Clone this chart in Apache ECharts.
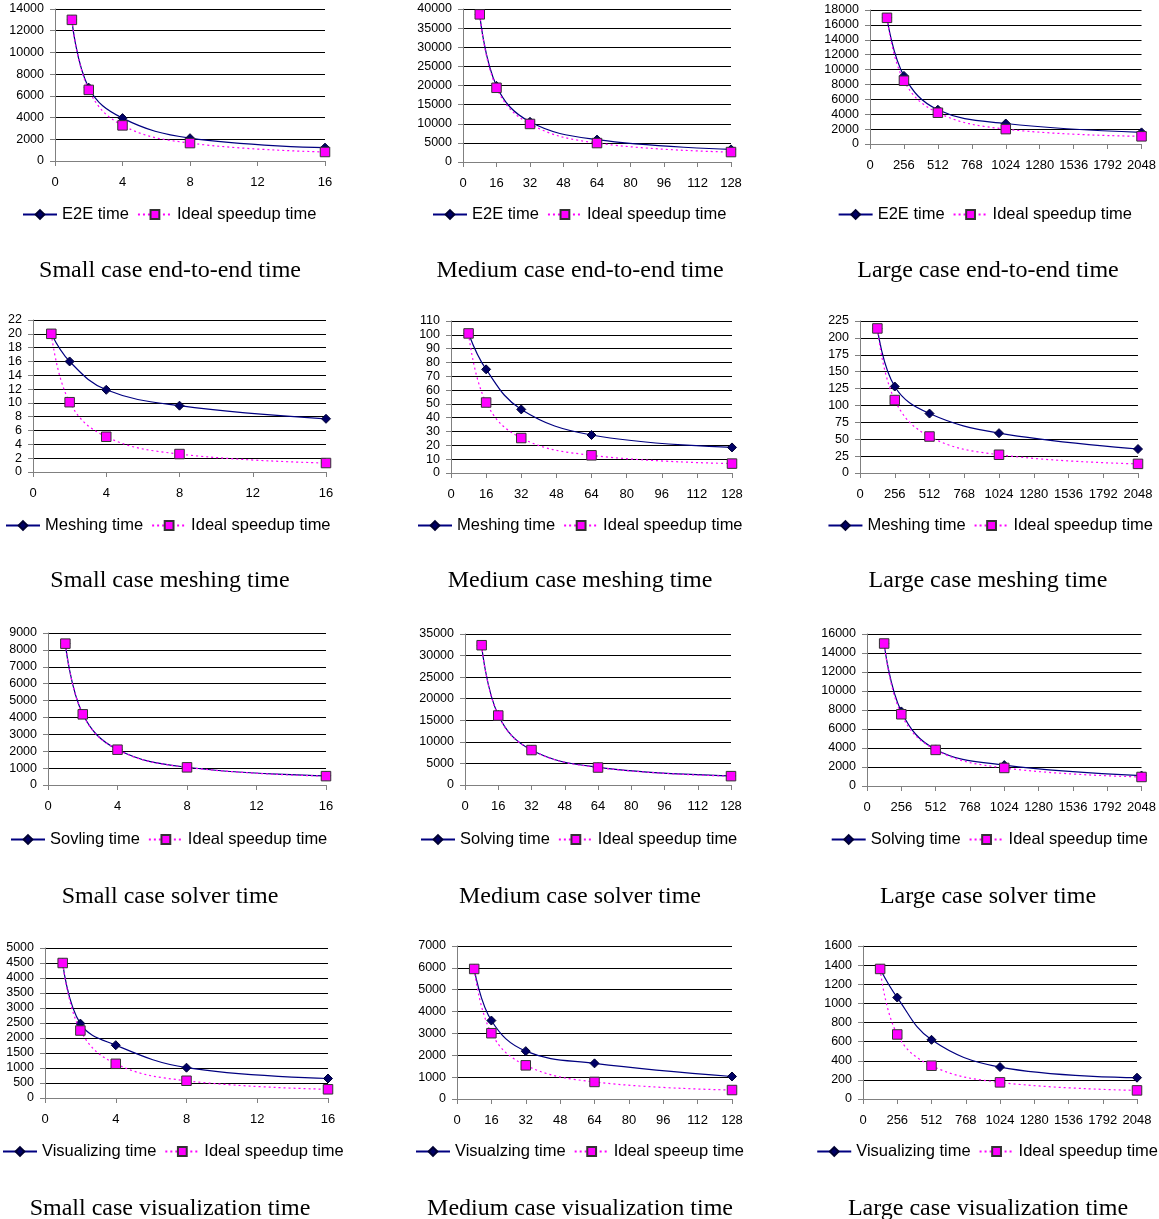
<!DOCTYPE html>
<html><head><meta charset="utf-8">
<script src="https://cdn.jsdelivr.net/npm/echarts@6/dist/echarts.min.js"></script>
<style>html,body{margin:0;padding:0;background:#fff}#c{width:1159px;height:1219px}</style>
</head><body><div id="c"></div>
<script>
// ---------- DATA ----------
const smallProcs  = [1, 2, 4, 8, 16];
const mediumProcs = [8, 16, 32, 64, 128];
const largeProcs  = [128, 256, 512, 1024, 2048];

const smallE2E        = [13000, 6750, 3950, 2100, 1230];
const smallE2EIdeal   = [13000, 6550, 3280, 1650, 830];
const mediumE2E       = [38600, 19900, 10500, 5850, 3300];
const mediumE2EIdeal  = [38600, 19400, 9950, 4950, 2600];
const largeE2E        = [16950, 9150, 4600, 2750, 1560];
const largeE2EIdeal   = [16950, 8500, 4200, 2000, 1030];

const smallMesh       = [20, 16, 11.9, 9.6, 7.7];
const smallMeshIdeal  = [20, 10.1, 5.1, 2.6, 1.3];
const mediumMesh      = [101, 75, 46, 27.5, 18.5];
const mediumMeshIdeal = [101, 51, 25.3, 12.8, 6.8];
const largeMesh       = [214, 128, 88, 59, 35.5];
const largeMeshIdeal  = [214, 108, 54, 27, 13.5];

const smallSolve       = [8370, 4200, 2100, 1050, 540];
const smallSolveIdeal  = [8370, 4185, 2090, 1045, 525];
const mediumSolve      = [32400, 16200, 8100, 4100, 2100];
const mediumSolveIdeal = [32400, 16100, 8100, 4050, 2050];
const largeSolve       = [15000, 7850, 3850, 2200, 1100];
const largeSolveIdeal  = [15000, 7550, 3800, 1900, 950];

const smallVis       = [4500, 2480, 1760, 1010, 650];
const smallVisIdeal  = [4500, 2250, 1140, 575, 290];
const mediumVis      = [5950, 3590, 2190, 1630, 1030];
const mediumVisIdeal = [5950, 3010, 1540, 780, 410];
const largeVis       = [1360, 1061, 619, 334, 223];
const largeVisIdeal  = [1360, 675, 348, 174, 90];

// axis ranges [max, interval]
const smallXAxis  = [16, 4];
const mediumXAxis = [128, 16];
const largeXAxis  = [2048, 256];

// ---------- PANELS (layout) ----------
// lg: [left or null, right or null, legend centre y]
const panels = [
  {x: smallProcs,  a: smallE2E,   b: smallE2EIdeal,   an: 'E2E time', bn: 'Ideal speedup time', xa: smallXAxis,  ymax: 14000, yint: 2000,
   g: [55, 9, 325, 161], lg: [22, null, 213], title: 'Small case end-to-end time', t: [170, 269]},
  {x: mediumProcs, a: mediumE2E,  b: mediumE2EIdeal,  an: 'E2E time', bn: 'Ideal speedup time', xa: mediumXAxis, ymax: 40000, yint: 5000,
   g: [463, 9, 731, 162], lg: [432, null, 213], title: 'Medium case end-to-end time', t: [580, 269]},
  {x: largeProcs,  a: largeE2E,   b: largeE2EIdeal,   an: 'E2E time', bn: 'Ideal speedup time', xa: largeXAxis,  ymax: 18000, yint: 2000,
   g: [870, 10, 1142, 144], lg: [null, 27, 213], title: 'Large case end-to-end time', t: [988, 269]},

  {x: smallProcs,  a: smallMesh,  b: smallMeshIdeal,  an: 'Meshing time', bn: 'Ideal speedup time', xa: smallXAxis,  ymax: 22, yint: 2,
   g: [33, 320, 326, 472], lg: [5, null, 524], title: 'Small case meshing time', t: [170, 579]},
  {x: mediumProcs, a: mediumMesh, b: mediumMeshIdeal, an: 'Meshing time', bn: 'Ideal speedup time', xa: mediumXAxis, ymax: 110, yint: 10,
   g: [451, 321, 732, 473], lg: [417, null, 524], title: 'Medium case meshing time', t: [580, 579]},
  {x: largeProcs,  a: largeMesh,  b: largeMeshIdeal,  an: 'Meshing time', bn: 'Ideal speedup time', xa: largeXAxis,  ymax: 225, yint: 25,
   g: [860, 321, 1138, 473], lg: [null, 6, 524], title: 'Large case meshing time', t: [988, 579]},

  {x: smallProcs,  a: smallSolve,  b: smallSolveIdeal,  an: 'Sovling time', bn: 'Ideal speedup time', xa: smallXAxis,  ymax: 9000, yint: 1000,
   g: [48, 633, 326, 785], lg: [10, null, 838], title: 'Small case solver time', t: [170, 895]},
  {x: mediumProcs, a: mediumSolve, b: mediumSolveIdeal, an: 'Solving time', bn: 'Ideal speedup time', xa: mediumXAxis, ymax: 35000, yint: 5000,
   g: [465, 634, 731, 785], lg: [420, null, 838], title: 'Medium case solver time', t: [580, 895]},
  {x: largeProcs,  a: largeSolve,  b: largeSolveIdeal,  an: 'Solving time', bn: 'Ideal speedup time', xa: largeXAxis,  ymax: 16000, yint: 2000,
   g: [867, 634, 1142, 786], lg: [null, 11, 838], title: 'Large case solver time', t: [988, 895]},

  {x: smallProcs,  a: smallVis,  b: smallVisIdeal,  an: 'Visualizing time', bn: 'Ideal speedup time', xa: smallXAxis,  ymax: 5000, yint: 500,
   g: [45, 948, 328, 1098], lg: [2, null, 1150], title: 'Small case visualization time', t: [170, 1207]},
  {x: mediumProcs, a: mediumVis, b: mediumVisIdeal, an: 'Visualzing time', bn: 'Ideal speeup time', xa: mediumXAxis, ymax: 7000, yint: 1000,
   g: [457, 946, 732, 1099], lg: [415, null, 1150], title: 'Medium case visualization time', t: [580, 1207]},
  {x: largeProcs,  a: largeVis,  b: largeVisIdeal,  an: 'Visualizing time', bn: 'Ideal speedup time', xa: largeXAxis,  ymax: 1600, yint: 200,
   g: [863, 946, 1137, 1099], lg: [null, 1, 1150], title: 'Large case visualization time', t: [988, 1207]}
];

const SANS = '"Liberation Sans", Arial, sans-serif';
const SERIF = '"Liberation Serif", "Times New Roman", serif';
const NAVY = '#000080';
const MAG = '#FF00FF';
const plain = v => String(v);

const grid = [], xAxis = [], yAxis = [], series = [], legend = [], graphic = [];
panels.forEach((p, i) => {
  grid.push({left: p.g[0], top: p.g[1], width: p.g[2] - p.g[0], height: p.g[3] - p.g[1], containLabel: false});
  xAxis.push({
    type: 'value', gridIndex: i, min: 0, max: p.xa[0], interval: p.xa[1],
    axisLine: {show: true, onZero: false, lineStyle: {color: '#808080', width: 1}},
    axisTick: {show: true, inside: false, length: 5, lineStyle: {color: '#808080'}},
    splitLine: {show: false},
    axisLabel: {color: '#000', fontFamily: SANS, fontSize: 13, margin: 15, formatter: plain}
  });
  yAxis.push({
    type: 'value', gridIndex: i, min: 0, max: p.ymax, interval: p.yint,
    axisLine: {show: true, lineStyle: {color: '#808080', width: 1}},
    axisTick: {show: true, inside: false, length: 5, lineStyle: {color: '#808080'}},
    splitLine: {show: true, lineStyle: {color: '#000', width: 1}},
    axisLabel: {color: '#000', fontFamily: SANS, fontSize: 12.5, margin: 11, formatter: plain}
  });
  series.push({
    name: p.an, type: 'line', xAxisIndex: i, yAxisIndex: i,
    data: p.x.map((v, k) => [v, p.a[k]]),
    smooth: 0.4, symbol: 'diamond', symbolSize: 9,
    lineStyle: {color: NAVY, width: 1.2},
    itemStyle: {color: '#000066', borderColor: '#000033', borderWidth: 1},
    emphasis: {disabled: true}, z: 2
  });
  series.push({
    name: p.bn, type: 'line', xAxisIndex: i, yAxisIndex: i,
    data: p.x.map((v, k) => [v, p.b[k]]),
    smooth: 0.4, symbol: 'rect', symbolSize: 9.5,
    lineStyle: {color: MAG, width: 1.2, type: [2, 3]},
    itemStyle: {color: MAG, borderColor: '#333', borderWidth: 1},
    emphasis: {disabled: true}, z: 3
  });
  const lgd = {
    top: p.lg[2] - 7, data: [p.an, p.bn], orient: 'horizontal',
    itemWidth: 34, itemHeight: 11, itemGap: 8, selectedMode: false, padding: 0,
    textStyle: {color: '#000', fontFamily: SANS, fontSize: 16.5}
  };
  if (p.lg[0] !== null) lgd.left = p.lg[0]; else lgd.right = p.lg[1];
  legend.push(lgd);
  graphic.push({
    type: 'text', x: p.t[0], y: p.t[1] + 2,
    style: {text: p.title, fill: '#000', font: '24px ' + SERIF, align: 'center', verticalAlign: 'middle'}
  });
});

const chart = echarts.init(document.getElementById('c'), null, {renderer: 'canvas'});
chart.setOption({animation: false, backgroundColor: '#fff', grid, xAxis, yAxis, series, legend, graphic});
</script></body></html>
